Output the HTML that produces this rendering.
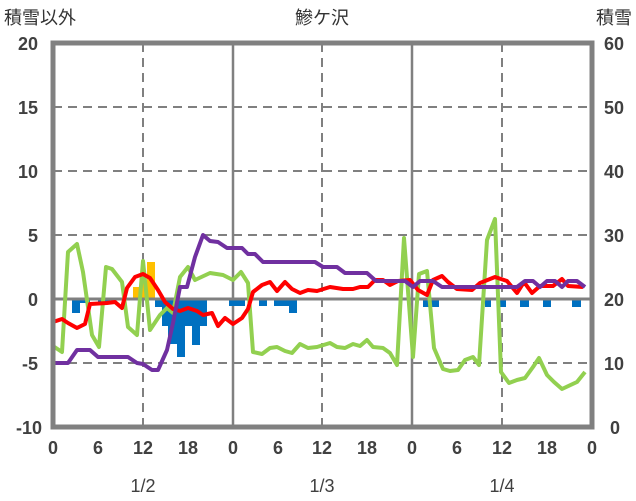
<!DOCTYPE html>
<html><head><meta charset="utf-8"><style>
html,body{margin:0;padding:0;background:#fff;}
svg{display:block;font-family:"Liberation Sans","Noto Sans CJK JP",sans-serif;}
</style></head><body>
<svg width="636" height="501" viewBox="0 0 636 501" xmlns="http://www.w3.org/2000/svg">
<rect width="636" height="501" fill="#fff"/>
<g stroke="#808080" stroke-width="2" stroke-dasharray="9,6" fill="none">
<line x1="53" y1="107" x2="592" y2="107"/>
<line x1="53" y1="171" x2="592" y2="171"/>
<line x1="53" y1="235" x2="592" y2="235"/>
<line x1="53" y1="363" x2="592" y2="363"/>
<line x1="143" y1="43" x2="143" y2="427"/>
<line x1="322" y1="43" x2="322" y2="427"/>
<line x1="502" y1="43" x2="502" y2="427"/>
</g>
<g stroke="#808080" stroke-width="2.5">
<line x1="233" y1="43" x2="233" y2="427"/>
<line x1="412" y1="43" x2="412" y2="427"/>
</g>
<g fill="#FFC000">
<rect x="133" y="287" width="7" height="11"/>
<rect x="140" y="282" width="7" height="16"/>
<rect x="147" y="262" width="8" height="36"/>
</g>
<g fill="#0070C0">
<rect x="72" y="300" width="8" height="13"/>
<rect x="80" y="300" width="10" height="3"/>
<rect x="98" y="300" width="12" height="4"/>
<rect x="155" y="300" width="7" height="7"/>
<rect x="162" y="300" width="6" height="26"/>
<rect x="168" y="300" width="9" height="44"/>
<rect x="177" y="300" width="8" height="57"/>
<rect x="185" y="300" width="7" height="26"/>
<rect x="192" y="300" width="8" height="45"/>
<rect x="200" y="300" width="7" height="26"/>
<rect x="229" y="300" width="16" height="6"/>
<rect x="259" y="300" width="8" height="6"/>
<rect x="274" y="300" width="15" height="6"/>
<rect x="289" y="300" width="8" height="13"/>
<rect x="423" y="300" width="16" height="7"/>
<rect x="485" y="300" width="6" height="7"/>
<rect x="499" y="300" width="7" height="7"/>
<rect x="520" y="300" width="9" height="7"/>
<rect x="543" y="300" width="8" height="7"/>
<rect x="572" y="300" width="9" height="7"/>
</g>
<line x1="53" y1="299" x2="592" y2="299" stroke="#808080" stroke-width="3"/>
<g fill="none" stroke-width="4" stroke-linejoin="round">
<polyline stroke="#92D050" points="53,346 62,352 68,252 77,244 83,272 92,335 99,347 106,267 112,269 122,282 128,327 137,335 143,261 150,330 160,315 167,308 173,313 180,277 188,267 195,280 210,273 223,275 233,280 241,272 248,283 253,352 262,354 270,348 277,347 285,351 292,353 300,344 308,348 317,347 330,343 337,347 345,348 353,344 360,346 367,340 373,347 383,348 390,353 397,365 404,238 413,357 419,274 427,271 434,348 443,369 450,371 458,370 465,360 473,357 479,365 487,240 495,219 501,372 509,383 517,380 525,378 533,367 539,358 547,375 554,382 562,389 577,382 585,372"/>
<polyline stroke="#FF0000" points="53,322 62,319 68,323 77,328 85,324 90,304 107,303 115,302 122,308 127,288 135,277 143,274 150,278 158,290 165,302 173,309 180,311 188,308 197,311 203,315 212,313 218,326 225,318 233,324 242,318 248,309 253,292 262,285 270,282 277,291 285,282 292,289 300,293 308,290 317,291 330,287 343,289 353,289 360,287 368,287 375,280 383,280 390,285 398,281 410,280 418,290 427,295 433,280 442,276 448,282 457,289 472,290 480,283 495,277 507,281 517,293 524,282 532,293 540,286 553,286 562,279 568,286 583,287"/>
<polyline stroke="#7030A0" points="53,363 68,363 77,350 90,350 98,357 128,357 137,363 143,364 152,370 158,370 167,350 173,323 180,287 187,287 195,257 203,235 210,241 218,242 227,248 242,248 248,254 255,254 263,262 315,262 323,267 337,267 345,273 367,273 376,281 405,281 413,287 420,281 433,281 442,287 517,287 525,281 533,281 540,287 547,281 555,281 562,287 568,281 577,281 585,287"/>
</g>
<rect x="53" y="43" width="539" height="384" fill="none" stroke="#808080" stroke-width="5"/>
<g font-size="18" font-weight="bold" fill="#404040" text-anchor="end">
<text x="38" y="50">20</text><text x="38" y="114">15</text><text x="38" y="178">10</text><text x="38" y="242">5</text><text x="38" y="306">0</text><text x="38" y="370">-5</text><text x="42" y="434">-10</text>
</g>
<g font-size="18" font-weight="bold" fill="#404040" text-anchor="start">
<text x="604" y="50">60</text><text x="604" y="114">50</text><text x="604" y="178">40</text><text x="604" y="242">30</text><text x="604" y="306">20</text><text x="604" y="370">10</text><text x="610" y="434">0</text>
</g>
<g font-size="18" font-weight="bold" fill="#404040" text-anchor="middle">
<text x="53" y="454">0</text><text x="98" y="454">6</text><text x="143" y="454">12</text><text x="188" y="454">18</text><text x="233" y="454">0</text><text x="278" y="454">6</text><text x="322" y="454">12</text><text x="367" y="454">18</text><text x="412" y="454">0</text><text x="457" y="454">6</text><text x="502" y="454">12</text><text x="547" y="454">18</text><text x="592" y="454">0</text>
<text x="143" y="492" font-weight="normal">1/2</text><text x="322" y="492" font-weight="normal">1/3</text><text x="502" y="492" font-weight="normal">1/4</text>
</g>
<text x="322" y="24" font-size="18" fill="#333" text-anchor="middle">鰺ケ沢</text>
<text x="4" y="24" font-size="18" fill="#333">積雪以外</text>
<text x="632" y="24" font-size="18" fill="#333" text-anchor="end">積雪</text>
</svg>
</body></html>
